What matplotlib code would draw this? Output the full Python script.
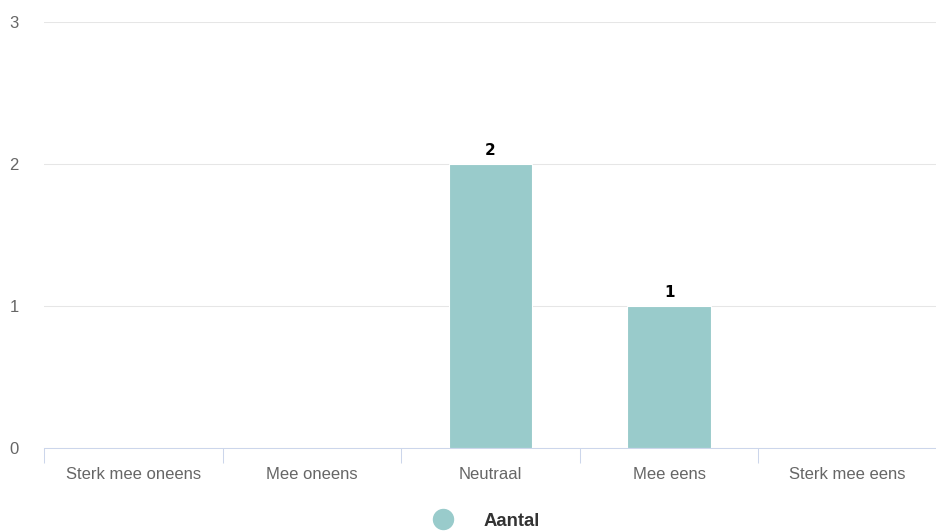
import matplotlib
matplotlib.use("Agg")
import matplotlib.pyplot as plt
from matplotlib.lines import Line2D

plt.rcParams["font.family"] = ["Liberation Sans", "DejaVu Sans"]

categories = ["Sterk mee oneens", "Mee oneens", "Neutraal", "Mee eens", "Sterk mee eens"]
aantal = [0, 0, 2, 1, 0]
y_ticks = [0, 1, 2, 3]
series_name = "Aantal"

_BAR = "#99cbcb"
_GRID = "#e6e6e6"
_AXIS = "#ccd6eb"
_LABEL = "#666666"
_LEGEND = "#333333"

W, H = 937, 532
fig = plt.figure(figsize=(W / 100, H / 100), dpi=100)
fig.set_facecolor("white")
ax = fig.add_axes([44 / W, 1 - 448 / H, 1 - 44 / W, (448 - 22) / H])

x = list(range(len(categories)))
bars = ax.bar(x, aantal, width=0.47, color=_BAR, edgecolor="white", linewidth=0.8, zorder=2)
ax.bar_label(bars, labels=[str(v) if v else "" for v in aantal], padding=4,
             fontsize=11, fontweight="bold", color="black", family="DejaVu Sans")

ax.set_xlim(-0.5, len(categories) - 0.5)
ax.set_ylim(0, 3)
ax.set_yticks(y_ticks)
ax.set_yticklabels([str(t) for t in y_ticks])
ax.grid(axis="y", color=_GRID, linewidth=0.75, zorder=0)
ax.set_axisbelow(True)

ax.set_xticks(x)
ax.set_xticklabels(categories)
ax.set_xticks([i - 0.5 for i in range(len(categories) + 1)], minor=True)
ax.tick_params(axis="x", which="major", length=0, pad=13.5, labelsize=12, labelcolor=_LABEL)
ax.tick_params(axis="x", which="minor", length=10.8, width=0.75, color=_AXIS)
ax.tick_params(axis="y", length=0, pad=18, labelsize=12, labelcolor=_LABEL)

for s in ("top", "right", "left"):
    ax.spines[s].set_visible(False)
ax.spines["bottom"].set_color(_AXIS)
ax.spines["bottom"].set_linewidth(0.75)
ax.spines["bottom"].set_zorder(3)

handle = Line2D([], [], linestyle="none", marker="o", markersize=14.4,
                markerfacecolor=_BAR, markeredgecolor=_BAR)
fig.legend([handle], [series_name], loc="center", bbox_to_anchor=(482 / W, 1 - 521 / H),
           frameon=False, handletextpad=1.16, prop={"weight": "bold", "size": 13.3},
           labelcolor=_LEGEND)

fig.savefig("out.png", dpi=100)
